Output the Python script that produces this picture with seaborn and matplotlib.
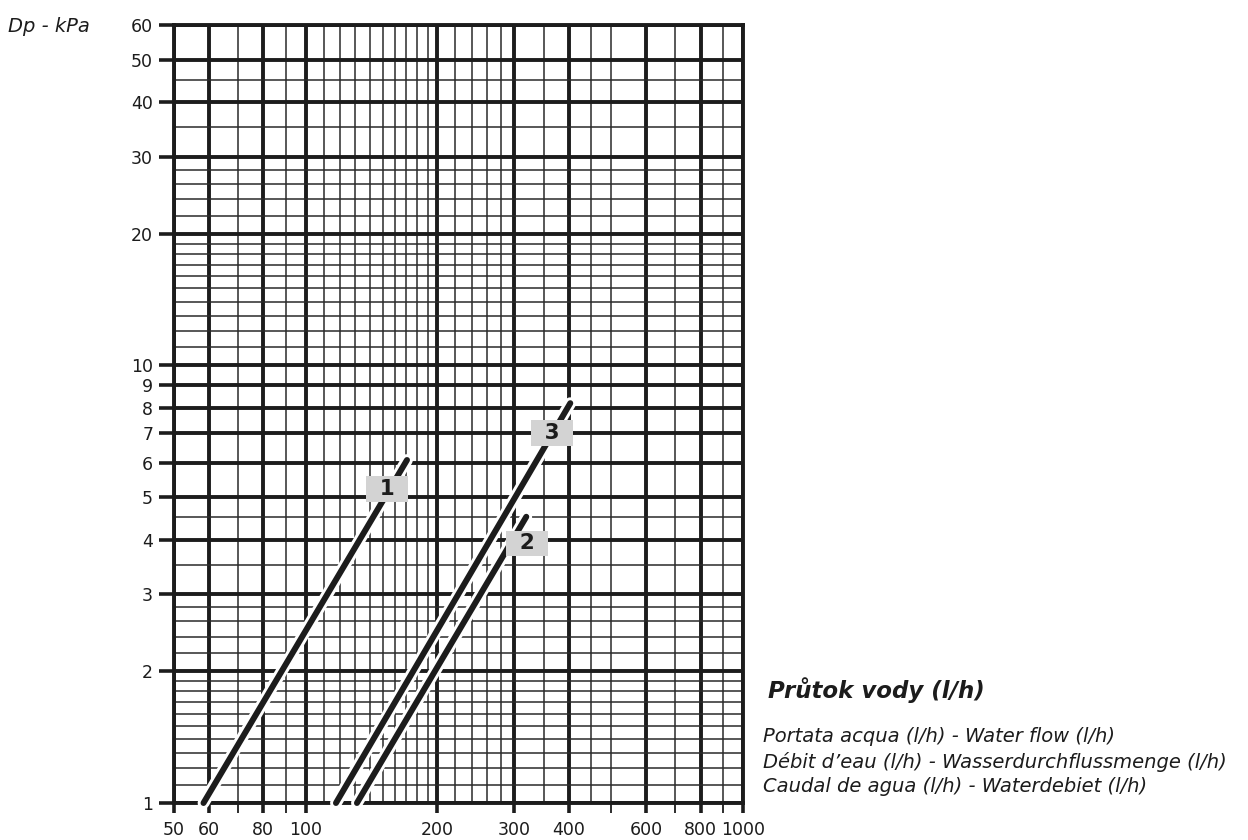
import pandas as pd
import numpy as np
import matplotlib.pyplot as plt
import matplotlib.patheffects as pe
from matplotlib.ticker import FixedLocator, FixedFormatter, NullFormatter
import seaborn as sns

# curve end points (water flow l/h, pressure drop kPa)
curve_names = ['1', '2', '3']
flow_start = [58.4, 131.0, 117.3]
flow_end = [170.5, 319.5, 402.8]
dp_start = [1.0, 1.0, 1.0]
dp_end = [6.08, 4.51, 8.2]

# label boxes on the curves
label_flow = [153.6, 321.0, 366.0]
label_dp = [5.22, 3.92, 7.01]

# axis ticks / grid
x_major = [50, 60, 80, 100, 200, 300, 400, 600, 800, 1000]
x_labels = ['50', '60', '80', '100', '200', '300', '400', '600', '800', '1000']
x_small_ticks = [70, 90, 500, 700, 900]
x_minor = [70, 90, 110, 120, 130, 140, 150, 160, 170, 180, 190,
           220, 240, 260, 280, 350, 450, 500, 700, 900]
y_major = [1, 2, 3, 4, 5, 6, 7, 8, 9, 10, 20, 30, 40, 50, 60]
y_labels = ['1', '2', '3', '4', '5', '6', '7', '8', '9', '10', '20', '30', '40', '50', '60']
y_minor = [1.1, 1.2, 1.3, 1.4, 1.5, 1.6, 1.7, 1.8, 1.9, 2.2, 2.4, 2.6, 2.8,
           3.5, 4.5, 11, 12, 13, 14, 15, 16, 17, 18, 19, 22, 24, 26, 28, 35, 45]

sns.set_style('white')
plt.rcParams['font.family'] = ['DejaVu Sans']

ink = '#1c1c1c'

fig = plt.figure(figsize=(12.48, 8.4), dpi=100)
ax = fig.add_axes([174 / 1248, 37 / 840, 569 / 1248, 778 / 840])

df = pd.DataFrame({
    'curve': [c for c in curve_names for _ in range(2)],
    'flow': [v for pair in zip(flow_start, flow_end) for v in pair],
    'dp': [v for pair in zip(dp_start, dp_end) for v in pair],
})

sns.lineplot(data=df, x='flow', y='dp', hue='curve', palette=[ink] * 3,
             legend=False, ax=ax, lw=4.3, sort=False, estimator=None,
             solid_capstyle='round', clip_on=False, zorder=5,
             path_effects=[pe.Stroke(linewidth=8.5, foreground='white'), pe.Normal()])

ax.set_xscale('log')
ax.set_yscale('log')
ax.set_xlim(50, 1000)
ax.set_ylim(1, 60)

ax.xaxis.set_major_locator(FixedLocator(x_major))
ax.xaxis.set_major_formatter(FixedFormatter(x_labels))
ax.xaxis.set_minor_locator(FixedLocator(x_minor))
ax.xaxis.set_minor_formatter(NullFormatter())
ax.yaxis.set_major_locator(FixedLocator(y_major))
ax.yaxis.set_major_formatter(FixedFormatter(y_labels))
ax.yaxis.set_minor_locator(FixedLocator(y_minor))
ax.yaxis.set_minor_formatter(NullFormatter())

ax.set_axisbelow(True)
ax.grid(which='major', color=ink, lw=2.8)
ax.grid(which='minor', color='#2a2a2a', lw=1.1)

ax.tick_params(axis='x', which='major', length=7, width=2.6, pad=6,
               labelsize=12.5, color=ink, labelcolor=ink, direction='out', bottom=True)
ax.tick_params(axis='y', which='major', length=11, width=2.6, pad=4,
               labelsize=12.5, color=ink, labelcolor=ink, direction='out', left=True)
ax.tick_params(which='minor', length=0)
for s in ax.spines.values():
    s.set_visible(True)
    s.set_color(ink)
    s.set_linewidth(2.8)

sec = ax.secondary_xaxis('bottom')
sec.set_xticks(x_small_ticks)
sec.xaxis.set_major_formatter(NullFormatter())
sec.xaxis.set_minor_locator(FixedLocator([]))
sec.tick_params(length=7, width=1.3, color=ink)
sec.spines['bottom'].set_visible(False)

ax.set_xlabel('')
ax.set_ylabel('')

for name, fx, fy in zip(curve_names, label_flow, label_dp):
    ax.text(fx, fy, '\u2002' + name + '\u2002', ha='center', va='center',
            fontsize=15.5, fontweight='bold', color=ink, zorder=6,
            bbox=dict(boxstyle='square,pad=0.12', fc='#d3d3d3', ec='none'))

fig.text(8 / 1248, 1 - 27 / 840, 'Dp - kPa', fontsize=14, style='italic',
         color=ink, ha='left', va='center')
fig.text(768 / 1248, 1 - 690 / 840, 'Průtok vody (l/h)', fontsize=16.5,
         style='italic', fontweight='bold', color=ink, ha='left', va='center')
fig.text(763 / 1248, 1 - 737 / 840, 'Portata acqua (l/h) - Water flow (l/h)',
         fontsize=14, style='italic', color=ink, ha='left', va='center')
fig.text(763 / 1248, 1 - 762 / 840, 'Débit d’eau (l/h) - Wasserdurchflussmenge (l/h)',
         fontsize=14, style='italic', color=ink, ha='left', va='center')
fig.text(763 / 1248, 1 - 786 / 840, 'Caudal de agua (l/h) - Waterdebiet (l/h)',
         fontsize=14, style='italic', color=ink, ha='left', va='center')

fig.savefig('out.png', dpi=100, facecolor='white')
